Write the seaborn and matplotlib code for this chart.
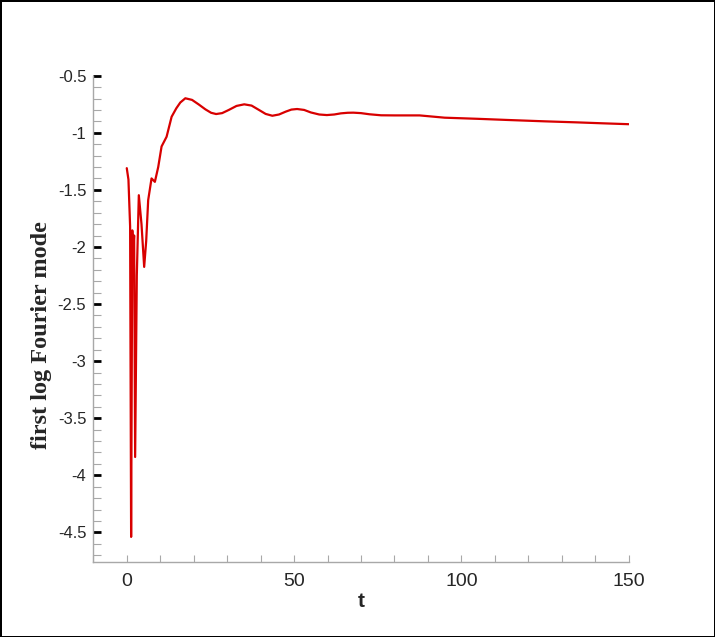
# Recreate the "first log Fourier mode" time history chart
import pandas as pd
import matplotlib
matplotlib.use("Agg")
import matplotlib.pyplot as plt
from matplotlib.ticker import MultipleLocator, FixedLocator
import seaborn as sns

# Values
t_values = [0, 0.5, 1.0, 1.3, 1.65, 1.9, 2.2, 2.5, 3.0, 3.6, 4.4, 5.2, 5.8,
            6.4, 7.4, 8.4, 9.4, 10.4, 11.9, 13.4, 14.8, 16.0, 17.5, 19.5,
            21.5, 23.5, 25.2, 26.7, 28.5, 30.5, 32.8, 35.1, 37.3, 39.5, 41.5,
            43.5, 45.5, 47.5, 49.2, 50.9, 53.0, 55.0, 57.5, 59.8, 62.0, 64.0,
            66.0, 67.7, 70.0, 72.5, 76.0, 80.0, 87.5, 95.0, 105.0, 114.7,
            125.0, 134.5, 142.0, 150.0]
mode_values = [-1.31, -1.41, -1.82, -4.54, -1.855, -2.05, -1.90, -3.84, -2.25,
               -1.547, -1.80, -2.175, -1.95, -1.59, -1.40, -1.43, -1.30, -1.12,
               -1.035, -0.86, -0.786, -0.735, -0.698, -0.712, -0.752, -0.795,
               -0.825, -0.836, -0.828, -0.800, -0.765, -0.751, -0.762, -0.800,
               -0.835, -0.851, -0.840, -0.815, -0.797, -0.792, -0.800, -0.822,
               -0.840, -0.845, -0.840, -0.830, -0.825, -0.824, -0.828, -0.838,
               -0.847, -0.848, -0.848, -0.868, -0.878, -0.889, -0.900, -0.909,
               -0.917, -0.925]

y_major_ticks = [-4.5, -4, -3.5, -3, -2.5, -2, -1.5, -1, -0.5]
x_major_ticks = [0, 50, 100, 150]

df = pd.DataFrame({"t": t_values, "mode": mode_values})

sns.set_theme(style="white")
plt.rcParams["font.family"] = ["Liberation Sans", "DejaVu Sans"]

fig = plt.figure(figsize=(7.15, 6.37), dpi=100)
fig.patch.set_edgecolor("black")
fig.patch.set_linewidth(2)
ax = fig.add_axes([0.1305, 0.1177, 0.7488, 0.7635])

sns.lineplot(data=df, x="t", y="mode", ax=ax, color="#d80000",
             linewidth=1.6, sort=False)

ax.set_xlim(-10, 150)
ax.set_ylim(-4.76, -0.5)

# Tecplot-like axes: gray spines, inward ticks
for side in ["top", "right"]:
    ax.spines[side].set_visible(False)
for side in ["left", "bottom"]:
    ax.spines[side].set_color("#a8a8a8")
    ax.spines[side].set_linewidth(1.0)

ax.yaxis.set_major_locator(FixedLocator(y_major_ticks))
ax.yaxis.set_minor_locator(MultipleLocator(0.1))
ax.set_yticklabels([f"{v:g}" for v in y_major_ticks])
ax.xaxis.set_major_locator(FixedLocator(x_major_ticks))
ax.xaxis.set_minor_locator(MultipleLocator(10))

ax.tick_params(axis="y", which="major", direction="in", length=6, width=2,
               color="black", labelsize=12, pad=5, left=True)
ax.tick_params(axis="y", which="minor", direction="in", length=6, width=0.8,
               color="#a8a8a8", left=True)
ax.tick_params(axis="x", which="major", direction="in", length=5, width=0.8,
               color="#a8a8a8", labelsize=14, pad=8, bottom=True)
ax.tick_params(axis="x", which="minor", direction="in", length=5, width=0.8,
               color="#a8a8a8", bottom=True)

ax.set_xlabel("t", fontsize=15, fontweight="bold", labelpad=1)
ax.set_ylabel("first log Fourier mode", fontsize=17.5, fontweight="bold",
              family=["Liberation Serif", "DejaVu Serif"])
ax.yaxis.set_label_coords(-0.077, 0.467)

plt.savefig("out.png", dpi=100, edgecolor=fig.get_edgecolor())
plt.close()
